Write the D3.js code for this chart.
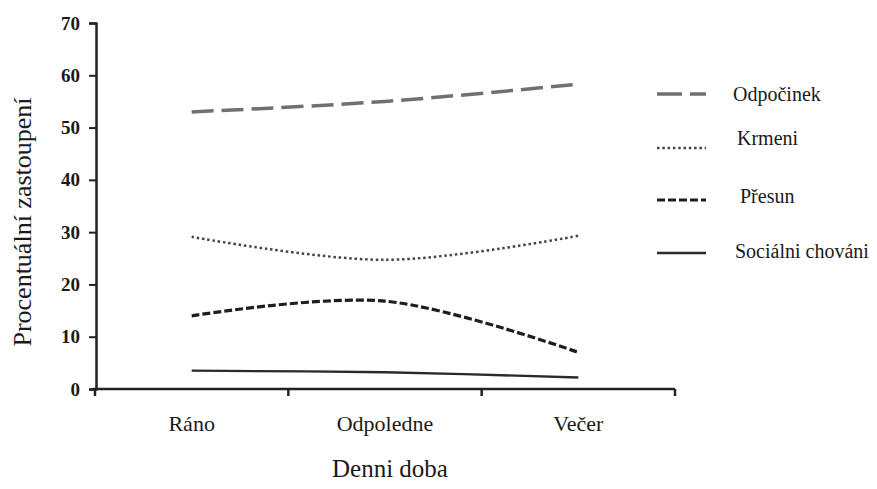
<!DOCTYPE html>
<html>
  <head>
    <title>Procentuální zastoupení podle denní doby</title>
    <style>
      body {
        margin: 0;
        background: #fff;
      }
      text {
        font-family: 'Times New Roman', Times, Tinos, 'Liberation Serif', 'DejaVu Serif', 'Noto Serif', serif;
        fill: #1a1a1a;
      }
    </style>
  </head>
  <body>
    <svg id="svg" width="877" height="489"></svg>
    <script src="https://cdn.jsdelivr.net/npm/d3@7"></script>
    <script>
      const width = 877;
      const height = 489;
      const serif = "'Times New Roman', Times, Tinos, 'Liberation Serif', 'DejaVu Serif', 'Noto Serif', serif";

      // data
      const categories = ['Ráno', 'Odpoledne', 'Večer'];
      const yTicks = [0, 10, 20, 30, 40, 50, 60, 70];
      const odpocinek = [53, 55, 58.3];
      const krmeni = [29.1, 24.7, 29.3];
      const presun = [14, 16.8, 7];
      const socialni = [3.5, 3.2, 2.2];

      const series = [
        { name: 'Odpočinek', values: odpocinek, color: '#707070', width: 3.5, dash: '22,8', legendDash: '25,8', ly: 94, tx: 733, ty: 101 },
        { name: 'Krmeni', values: krmeni, color: '#444', width: 2.5, dash: '2.5,2.8', legendDash: '2.5,2.8', ly: 148, tx: 737, ty: 145 },
        { name: 'Přesun', values: presun, color: '#1e1e1e', width: 3.2, dash: '8,3', legendDash: '8,3', ly: 200, tx: 740, ty: 203 },
        { name: 'Sociálni chováni', values: socialni, color: '#2a2a2a', width: 2.3, dash: null, legendDash: null, ly: 253, tx: 735, ty: 258 },
      ];

      const svg = d3.select('#svg');

      const xScale = d3.scaleBand().domain(categories).range([95, 675]);
      const yScale = d3.scaleLinear().domain([0, 70]).range([389, 23]);

      // bottom axis: ticks on the band edges, labels at centres
      const xAxis = svg.append('g').attr('transform', `translate(0, ${yScale(0)})`);
      xAxis
        .append('line')
        .attr('x1', 93)
        .attr('x2', 675)
        .attr('stroke', '#222')
        .attr('stroke-width', 2.5);
      const edges = [95].concat(categories.map((c) => xScale(c) + xScale.bandwidth()));
      xAxis
        .selectAll('.edge')
        .data(edges)
        .join('line')
        .attr('x1', (d) => d)
        .attr('x2', (d) => d)
        .attr('y1', 0)
        .attr('y2', 7)
        .attr('stroke', '#222')
        .attr('stroke-width', 2.5);
      xAxis
        .selectAll('.lab')
        .data(categories)
        .join('text')
        .attr('x', (d) => xScale(d) + xScale.bandwidth() / 2)
        .attr('y', 42)
        .attr('text-anchor', 'middle')
        .style('font-size', '22px')
        .text((d) => d);

      // left axis
      const leftAxis = d3.axisLeft(yScale).tickValues(yTicks).tickSize(7).tickPadding(9);
      const yAxis = svg
        .append('g')
        .attr('transform', 'translate(96, 0)')
        .call(leftAxis);
      yAxis.select('.domain').attr('stroke', '#222').attr('stroke-width', 2.5);
      yAxis.selectAll('.tick line').attr('stroke', '#222').attr('stroke-width', 2);
      yAxis
        .selectAll('.tick text')
        .attr('fill', '#1a1a1a')
        .style('font-family', serif)
        .style('font-size', '19px')
        .style('font-weight', 'bold');

      // axis titles
      svg
        .append('text')
        .attr('x', 390)
        .attr('y', 477)
        .attr('text-anchor', 'middle')
        .style('font-size', '25px')
        .text('Denni doba');
      svg
        .append('text')
        .attr('transform', 'translate(31, 222) rotate(-90)')
        .attr('text-anchor', 'middle')
        .style('font-size', '26px')
        .text('Procentuální zastoupení');

      // lines
      const linegen = d3
        .line()
        .x((d, i) => xScale(categories[i]) + xScale.bandwidth() / 2)
        .y((d) => yScale(d))
        .curve(d3.curveCatmullRom.alpha(0.5));

      svg
        .append('g')
        .selectAll('path')
        .data(series)
        .join('path')
        .attr('d', (d) => linegen(d.values))
        .attr('fill', 'none')
        .attr('stroke', (d) => d.color)
        .attr('stroke-width', (d) => d.width)
        .attr('stroke-dasharray', (d) => d.dash);

      // legend
      const legend = svg.append('g');
      legend
        .selectAll('line')
        .data(series)
        .join('line')
        .attr('x1', 657)
        .attr('x2', 706)
        .attr('y1', (d) => d.ly)
        .attr('y2', (d) => d.ly)
        .attr('stroke', (d) => d.color)
        .attr('stroke-width', (d) => d.width)
        .attr('stroke-dasharray', (d) => d.legendDash);
      legend
        .selectAll('text')
        .data(series)
        .join('text')
        .attr('x', (d) => d.tx)
        .attr('y', (d) => d.ty)
        .style('font-size', '20px')
        .text((d) => d.name);
    </script>
  </body>
</html>
